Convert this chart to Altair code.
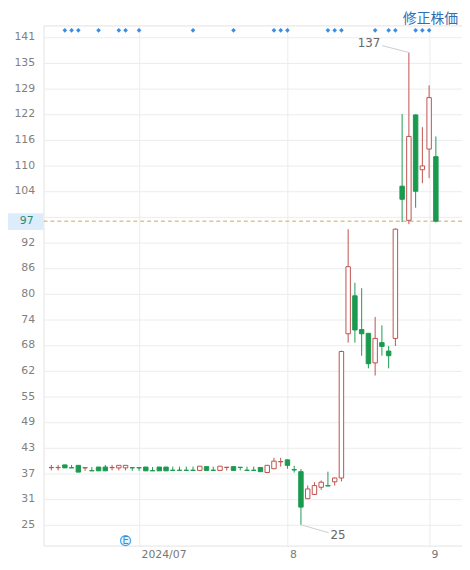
import altair as alt
import pandas as pd

# ---- data ----
opens = [38.55, 38.55, 39.2, 38.55, 39.1, 38.5, 37.85, 38.7, 38.7, 38.55,
         38.5, 38.5, 38.55, 38.55, 38.7, 37.85, 38.7, 38.7, 37.95, 37.95,
         37.95, 37.95, 37.9, 38.8, 37.95, 37.9, 38.6, 38.8, 38.65, 37.95,
         37.95, 38.6, 37.4, 38.3, 39.95, 40.4, 38.1, 37.6, 31.2, 32.2,
         33.9, 34.3, 35.2, 36.1, 70.3, 79.3, 71.3, 70.4, 63.4, 68.2,
         66.2, 69.2, 105.3, 97.2, 122.2, 109.2, 114.1, 112.3]
highs = [39.2, 39.2, 39.25, 39.2, 39.1, 38.55, 38.7, 38.7, 39.2, 39.2,
         39.1, 39.1, 38.55, 38.55, 38.7, 38.7, 38.7, 38.7, 38.8, 38.8,
         38.8, 38.8, 38.9, 38.8, 38.8, 38.9, 38.65, 38.8, 38.65, 38.8,
         38.8, 38.6, 39.2, 40.9, 40.9, 40.5, 39.0, 38.2, 34.3, 35.1,
         35.5, 37.6, 36.2, 66.3, 95.1, 82.4, 81.1, 70.5, 74.3, 72.3,
         67.4, 95.3, 122.4, 137.0, 122.3, 119.3, 129.2, 117.1]
lows = [37.9, 37.9, 38.5, 38.5, 37.5, 37.8, 37.8, 37.8, 37.8, 37.9,
        37.9, 37.9, 37.8, 37.8, 37.8, 37.8, 37.8, 37.8, 37.9, 37.9,
        37.9, 37.9, 37.9, 37.9, 37.9, 37.9, 37.9, 37.9, 37.9, 37.9,
        37.9, 37.6, 37.3, 38.2, 38.8, 38.3, 37.4, 25.0, 31.1, 32.1,
        33.3, 34.2, 34.3, 35.3, 68.2, 68.2, 65.1, 62.1, 60.4, 65.1,
        62.1, 67.4, 96.8, 96.3, 100.2, 106.0, 107.2, 96.7]
closes = [38.6, 38.6, 38.5, 38.5, 37.5, 38.55, 37.8, 37.8, 37.8, 38.6,
          39.1, 39.1, 38.5, 38.5, 37.8, 37.8, 37.8, 37.8, 37.9, 37.9,
          37.9, 37.9, 38.9, 37.9, 37.9, 38.9, 38.65, 37.9, 38.6, 37.9,
          37.9, 37.6, 39.1, 40.1, 40.0, 39.1, 38.0, 29.2, 33.5, 34.3,
          35.1, 34.2, 36.1, 66.1, 86.2, 71.2, 70.3, 63.2, 69.2, 67.3,
          65.1, 95.1, 102.2, 117.1, 104.1, 110.1, 126.3, 97.0]

month_tick_idx = [13, 35, 56]
month_tick_labels = ["2024/07", "8", "9"]
y_tick_values = [25.05, 31.14, 37.22, 43.31, 49.39, 55.48, 61.56, 67.65,
                 73.73, 79.82, 85.9, 91.99, 98.07, 104.16, 110.24, 116.33,
                 122.41, 128.52, 134.58, 140.67]
signal_idx = [2, 3, 4, 7, 10, 11, 13, 21, 27, 33, 34, 35, 41, 42, 43,
              48, 50, 51, 54, 55, 56]
earnings_idx = [11]
earnings_text = ["E"]
current_price = [97]
title_text = ["修正株価"]
high_note_idx = [53]
high_note_val = [137.0]
low_note_idx = [37]
low_note_val = [25.0]

RED = "#c0504d"
GREEN = "#1a9a4f"
FONT = "DejaVu Sans"

n = len(opens)
df = pd.DataFrame({"idx": list(range(n)), "o": opens, "h": highs,
                   "l": lows, "c": closes})
df["dir"] = ["up" if c >= o else "down" for o, c in zip(opens, closes)]

xs = alt.Scale(domain=[-0.4286, 60.143], nice=False, zero=False)
ys = alt.Scale(domain=[20.08, 143.42], nice=False, zero=False)

x_label_expr = " : ".join(
    f"datum.value == {i} ? '{t}'" for i, t in zip(month_tick_idx, month_tick_labels)
) + " : ''"

xaxis = alt.Axis(values=month_tick_idx, labelExpr=x_label_expr, title=None,
                 grid=True, gridColor="#ececec", ticks=False, domain=False,
                 labelAlign="left", labelFlush=False, labelOffset=2,
                 labelPadding=3, labelBaseline="top", labelFont=FONT,
                 labelFontSize=11, labelColor="#777777")
yaxis = alt.Axis(values=y_tick_values,
                 labelExpr="abs(datum.value - 98.07) < 0.5 ? '' : format(datum.value, '.0f')",
                 title=None, grid=True, gridColor="#ececec", ticks=False,
                 domain=False, labelPadding=9, labelFont=FONT,
                 labelFontSize=11, labelColor="#808080")


def X(field="idx"):
    return alt.X(f"{field}:Q", scale=xs, axis=xaxis)


def Y(field):
    return alt.Y(f"{field}:Q", scale=ys, axis=yaxis)


dir_stroke = alt.Stroke("dir:N", scale=alt.Scale(domain=["up", "down"], range=[RED, GREEN]), legend=None)
dir_fill = alt.Fill("dir:N", scale=alt.Scale(domain=["up", "down"], range=["#ffffff", GREEN]), legend=None)

base = alt.Chart(df)
wicks = base.mark_rule(strokeWidth=1).encode(x=X(), y=Y("l"), y2="h:Q", stroke=dir_stroke)
bodies = base.mark_bar(size=4.5, strokeWidth=1, opacity=1).encode(
    x=X(), y=Y("o"), y2="c:Q", fill=dir_fill, stroke=dir_stroke)

sig_df = pd.DataFrame({"idx": signal_idx})
signals = alt.Chart(sig_df).mark_point(shape="diamond", filled=True, size=22,
                                        color="#3a8de0", opacity=1).encode(
    x=X(), y=alt.value(5))

earn_df = pd.DataFrame({"idx": earnings_idx, "t": earnings_text})
earn_circle = alt.Chart(earn_df).mark_point(shape="circle", size=105, filled=True,
                                             fill="#e6f2fc", stroke="#4ea6e2",
                                             strokeWidth=1.2, opacity=1).encode(
    x=X(), y=alt.value(522))
earn_label = alt.Chart(earn_df).mark_text(fontSize=10, color="#3a8ed8", font=FONT,
                                          baseline="middle", align="center").encode(
    x=X(), y=alt.value(522), text="t:N")

price_df = pd.DataFrame({"v": current_price})
price_rule = alt.Chart(price_df).mark_rule(color="#d6a256", strokeDash=[4, 3],
                                           strokeWidth=1).encode(y=Y("v"))
price_box = alt.Chart(price_df).mark_rect(color="#dcecfb", yOffset=-8, y2Offset=9).encode(
    x=alt.value(-36), x2=alt.value(0), y=Y("v"), y2="v:Q")
price_text = alt.Chart(price_df).mark_text(align="right", baseline="middle",
                                           font=FONT, fontSize=11,
                                           color="#2b8a6e").encode(
    x=alt.value(-10), y=Y("v"), text=alt.Text("v:Q", format=".0f"))

title_df = pd.DataFrame({"t": title_text})
title = alt.Chart(title_df).mark_text(align="right", baseline="middle",
                                      font="Noto Sans CJK JP", fontSize=14,
                                      color="#2f6fb8").encode(
    x=alt.value(420), y=alt.value(-6), text="t:N")

hi_df = pd.DataFrame({"idx": high_note_idx, "v": high_note_val})
hi_line = alt.Chart(hi_df).mark_rule(color="#cccccc", x2Offset=-27, y2Offset=-7).encode(
    x=X(), y=Y("v"), x2="idx:Q", y2="v:Q")
hi_text = alt.Chart(hi_df).mark_text(align="right", baseline="middle", dx=-29, dy=-10,
                                     color="#666666", fontSize=12, font=FONT).encode(
    x=X(), y=Y("v"), text=alt.Text("v:Q", format=".0f"))

lo_df = pd.DataFrame({"idx": low_note_idx, "v": low_note_val})
lo_line = alt.Chart(lo_df).mark_rule(color="#cccccc", x2Offset=28, y2Offset=8).encode(
    x=X(), y=Y("v"), x2="idx:Q", y2="v:Q")
lo_text = alt.Chart(lo_df).mark_text(align="left", baseline="middle", dx=30, dy=10,
                                     color="#666666", fontSize=12, font=FONT).encode(
    x=X(), y=Y("v"), text=alt.Text("v:Q", format=".0f"))

chart = alt.layer(
    price_rule, wicks, bodies, signals, earn_circle, earn_label,
    price_box, price_text, title, hi_line, hi_text, lo_line, lo_text
).properties(
    width=424, height=527,
    padding={"left": 36, "top": 14, "right": 0, "bottom": 13},
    autosize=alt.AutoSizeParams(type="none"),
).configure_view(stroke="#e3e3e3")

chart.save("out.html", embed_options={"renderer": "svg", "actions": False})
